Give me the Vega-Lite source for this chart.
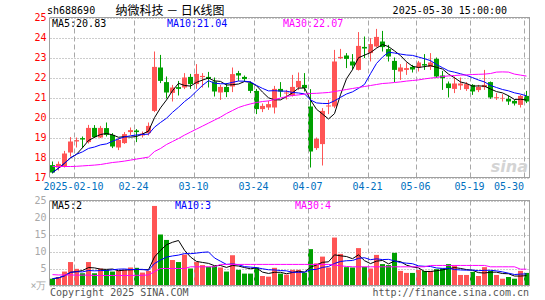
{
"$schema": "https://vega.github.io/schema/vega-lite/v6.json",
"width": 480, "height": 269,
"autosize": {"type": "none"},
"padding": {"left": 50, "top": 17, "right": 15, "bottom": 14},
"background": "white",
"config": {"view": {"stroke": null}, "font": "DejaVu Sans Mono"},
"datasets": {
"k": [
{"d":"2025-01-27","o":17.62,"h":17.8,"l":17.2,"c":17.25,"v":2.0,"m":17.55,"vm":3.2},
{"d":"2025-02-05","o":17.5,"h":17.8,"l":17.35,"c":17.68,"v":2.5,"m":17.55,"vm":3.1},
{"d":"2025-02-06","o":17.55,"h":18.33,"l":17.5,"c":18.2,"v":4.1,"m":17.55,"vm":3.1},
{"d":"2025-02-07","o":18.25,"h":19.02,"l":18.05,"c":18.8,"v":6.9,"m":17.55,"vm":3.1},
{"d":"2025-02-10","o":18.8,"h":19.0,"l":18.5,"c":18.87,"v":4.9,"m":17.56,"vm":3.05},
{"d":"2025-02-11","o":18.97,"h":19.05,"l":18.47,"c":18.9,"v":3.6,"m":17.58,"vm":3.05},
{"d":"2025-02-12","o":18.77,"h":19.63,"l":18.7,"c":19.48,"v":6.9,"m":17.6,"vm":3.05},
{"d":"2025-02-13","o":19.48,"h":19.62,"l":18.97,"c":19.02,"v":3.6,"m":17.62,"vm":2.95},
{"d":"2025-02-14","o":19.0,"h":19.58,"l":18.97,"c":19.48,"v":5.0,"m":17.65,"vm":2.95},
{"d":"2025-02-17","o":19.47,"h":19.75,"l":19.05,"c":19.13,"v":4.6,"m":17.7,"vm":2.95},
{"d":"2025-02-18","o":19.13,"h":19.22,"l":18.47,"c":18.55,"v":4.1,"m":17.75,"vm":2.95},
{"d":"2025-02-19","o":18.5,"h":18.97,"l":18.37,"c":18.88,"v":4.4,"m":17.78,"vm":2.95},
{"d":"2025-02-20","o":18.72,"h":19.27,"l":18.68,"c":19.17,"v":4.6,"m":17.82,"vm":2.95},
{"d":"2025-02-21","o":19.27,"h":19.5,"l":19.13,"c":19.37,"v":5.3,"m":17.87,"vm":2.95},
{"d":"2025-02-24","o":19.35,"h":19.42,"l":18.77,"c":19.27,"v":5.2,"m":17.92,"vm":3.0},
{"d":"2025-02-25","o":19.1,"h":19.3,"l":19.0,"c":19.2,"v":3.8,"m":17.97,"vm":3.0},
{"d":"2025-02-26","o":19.22,"h":19.75,"l":19.1,"c":19.58,"v":4.3,"m":18.02,"vm":3.1},
{"d":"2025-02-27","o":20.33,"h":23.3,"l":20.27,"c":22.53,"v":23.4,"m":18.3,"vm":4.1},
{"d":"2025-02-28","o":22.5,"h":23.13,"l":21.72,"c":21.83,"v":15.0,"m":18.45,"vm":5.0},
{"d":"2025-03-03","o":21.77,"h":22.05,"l":20.95,"c":21.25,"v":13.4,"m":18.65,"vm":5.0},
{"d":"2025-03-04","o":21.23,"h":21.63,"l":20.8,"c":21.5,"v":7.5,"m":18.8,"vm":5.0},
{"d":"2025-03-05","o":21.52,"h":21.83,"l":21.1,"c":21.43,"v":6.9,"m":18.95,"vm":5.0},
{"d":"2025-03-06","o":21.5,"h":22.22,"l":21.42,"c":22.0,"v":9.1,"m":19.12,"vm":5.0},
{"d":"2025-03-07","o":22.03,"h":22.18,"l":21.43,"c":21.67,"v":5.0,"m":19.27,"vm":5.5},
{"d":"2025-03-10","o":21.67,"h":22.67,"l":21.43,"c":22.18,"v":6.9,"m":19.42,"vm":5.5},
{"d":"2025-03-11","o":22.02,"h":22.22,"l":21.5,"c":22.08,"v":6.0,"m":19.57,"vm":5.5},
{"d":"2025-03-12","o":22.03,"h":22.28,"l":21.5,"c":21.93,"v":5.5,"m":19.72,"vm":5.5},
{"d":"2025-03-13","o":21.8,"h":22.0,"l":21.05,"c":21.3,"v":5.7,"m":19.87,"vm":5.5},
{"d":"2025-03-14","o":21.25,"h":21.63,"l":20.88,"c":21.53,"v":5.3,"m":20.02,"vm":6.2},
{"d":"2025-03-17","o":21.53,"h":21.72,"l":21.02,"c":21.27,"v":4.1,"m":20.2,"vm":6.2},
{"d":"2025-03-18","o":21.55,"h":22.5,"l":21.27,"c":22.17,"v":8.9,"m":20.35,"vm":6.2},
{"d":"2025-03-19","o":22.22,"h":22.33,"l":21.83,"c":22.1,"v":4.6,"m":20.5,"vm":6.2},
{"d":"2025-03-20","o":22.03,"h":22.1,"l":21.8,"c":21.92,"v":3.5,"m":20.6,"vm":6.2},
{"d":"2025-03-21","o":21.72,"h":21.8,"l":21.22,"c":21.33,"v":3.5,"m":20.68,"vm":6.2},
{"d":"2025-03-24","o":21.33,"h":21.43,"l":20.17,"c":20.42,"v":5.3,"m":20.75,"vm":6.2},
{"d":"2025-03-25","o":20.42,"h":20.7,"l":20.27,"c":20.58,"v":2.8,"m":20.8,"vm":6.2},
{"d":"2025-03-26","o":20.5,"h":20.83,"l":20.38,"c":20.67,"v":2.6,"m":20.83,"vm":6.2},
{"d":"2025-03-27","o":20.5,"h":21.58,"l":20.2,"c":21.43,"v":5.2,"m":20.9,"vm":6.2},
{"d":"2025-03-28","o":21.43,"h":21.77,"l":21.03,"c":21.3,"v":3.5,"m":20.97,"vm":6.2},
{"d":"2025-03-31","o":21.2,"h":21.38,"l":20.9,"c":21.25,"v":3.2,"m":21.05,"vm":6.2},
{"d":"2025-04-01","o":21.1,"h":22.13,"l":21.05,"c":21.53,"v":4.6,"m":21.1,"vm":6.2},
{"d":"2025-04-02","o":21.5,"h":22.25,"l":21.37,"c":21.83,"v":4.6,"m":21.13,"vm":6.2},
{"d":"2025-04-03","o":21.63,"h":22.22,"l":21.3,"c":21.47,"v":3.8,"m":21.17,"vm":6.2},
{"d":"2025-04-07","o":20.55,"h":21.42,"l":17.5,"c":18.3,"v":10.7,"m":21.2,"vm":6.2},
{"d":"2025-04-08","o":18.47,"h":19.0,"l":18.38,"c":18.93,"v":6.5,"m":21.21,"vm":6.2},
{"d":"2025-04-09","o":18.67,"h":20.47,"l":17.6,"c":20.33,"v":8.5,"m":21.23,"vm":6.2},
{"d":"2025-04-10","o":20.55,"h":20.88,"l":20.17,"c":20.6,"v":5.3,"m":21.25,"vm":6.2},
{"d":"2025-04-11","o":20.55,"h":23.38,"l":20.47,"c":22.8,"v":14.1,"m":21.3,"vm":6.0},
{"d":"2025-04-14","o":22.97,"h":23.43,"l":22.92,"c":23.03,"v":9.3,"m":21.35,"vm":5.8},
{"d":"2025-04-15","o":23.1,"h":23.22,"l":22.47,"c":22.93,"v":5.4,"m":21.4,"vm":5.6},
{"d":"2025-04-16","o":22.8,"h":23.17,"l":22.38,"c":22.6,"v":5.3,"m":21.45,"vm":5.5},
{"d":"2025-04-17","o":22.38,"h":24.27,"l":22.35,"c":23.58,"v":11.0,"m":21.5,"vm":5.5},
{"d":"2025-04-18","o":23.53,"h":24.05,"l":22.97,"c":23.45,"v":5.5,"m":21.55,"vm":5.5},
{"d":"2025-04-21","o":23.22,"h":23.97,"l":22.8,"c":23.67,"v":5.0,"m":21.6,"vm":5.5},
{"d":"2025-04-22","o":23.55,"h":24.43,"l":23.5,"c":24.03,"v":9.0,"m":21.65,"vm":5.5},
{"d":"2025-04-23","o":23.8,"h":24.33,"l":23.3,"c":23.52,"v":6.3,"m":21.7,"vm":5.5},
{"d":"2025-04-24","o":23.42,"h":23.63,"l":22.8,"c":23.05,"v":6.0,"m":21.72,"vm":5.5},
{"d":"2025-04-25","o":22.83,"h":23.0,"l":21.77,"c":22.38,"v":9.6,"m":21.75,"vm":5.5},
{"d":"2025-04-28","o":22.3,"h":22.67,"l":21.88,"c":22.5,"v":4.3,"m":21.78,"vm":5.5},
{"d":"2025-04-29","o":22.38,"h":22.75,"l":22.13,"c":22.47,"v":3.7,"m":21.82,"vm":5.5},
{"d":"2025-04-30","o":22.53,"h":22.63,"l":22.25,"c":22.4,"v":3.7,"m":21.85,"vm":5.5},
{"d":"2025-05-06","o":22.5,"h":22.83,"l":22.3,"c":22.75,"v":4.6,"m":21.88,"vm":5.5},
{"d":"2025-05-07","o":22.67,"h":23.17,"l":22.38,"c":22.6,"v":4.3,"m":21.93,"vm":5.5},
{"d":"2025-05-08","o":22.53,"h":23.22,"l":22.38,"c":22.75,"v":4.3,"m":21.97,"vm":5.9},
{"d":"2025-05-09","o":22.93,"h":23.0,"l":21.97,"c":22.05,"v":4.8,"m":22.0,"vm":5.9},
{"d":"2025-05-12","o":22.1,"h":22.33,"l":21.38,"c":21.97,"v":5.0,"m":22.05,"vm":5.9},
{"d":"2025-05-13","o":21.7,"h":21.8,"l":21.0,"c":21.47,"v":6.3,"m":22.08,"vm":5.9},
{"d":"2025-05-14","o":21.43,"h":22.05,"l":21.22,"c":21.7,"v":5.9,"m":22.1,"vm":5.9},
{"d":"2025-05-15","o":21.6,"h":22.0,"l":21.38,"c":21.7,"v":3.1,"m":22.12,"vm":5.9},
{"d":"2025-05-16","o":21.42,"h":21.77,"l":21.33,"c":21.67,"v":3.1,"m":22.13,"vm":5.9},
{"d":"2025-05-19","o":21.63,"h":21.67,"l":21.13,"c":21.3,"v":4.0,"m":22.15,"vm":5.9},
{"d":"2025-05-20","o":21.37,"h":21.63,"l":21.27,"c":21.53,"v":2.8,"m":22.16,"vm":5.9},
{"d":"2025-05-21","o":21.52,"h":22.38,"l":21.38,"c":21.63,"v":5.4,"m":22.17,"vm":5.9},
{"d":"2025-05-22","o":21.77,"h":21.8,"l":20.93,"c":21.0,"v":4.3,"m":22.2,"vm":5.5},
{"d":"2025-05-23","o":20.98,"h":21.22,"l":20.88,"c":21.02,"v":3.1,"m":22.27,"vm":5.5},
{"d":"2025-05-26","o":20.95,"h":21.17,"l":20.8,"c":20.98,"v":2.0,"m":22.28,"vm":5.5},
{"d":"2025-05-27","o":20.93,"h":21.1,"l":20.63,"c":20.8,"v":2.5,"m":22.27,"vm":5.5},
{"d":"2025-05-28","o":20.83,"h":20.88,"l":20.6,"c":20.7,"v":2.0,"m":22.17,"vm":5.5},
{"d":"2025-05-29","o":20.63,"h":21.13,"l":20.5,"c":21.08,"v":4.3,"m":22.12,"vm":4.8},
{"d":"2025-05-30","o":21.08,"h":21.33,"l":20.72,"c":20.8,"v":3.7,"m":22.07,"vm":4.8}
],
"t": [{"d":"2025-02-10","lab":"2025-02-10"},{"d":"2025-02-24","lab":"02-24"},{"d":"2025-03-10","lab":"03-10"},{"d":"2025-03-24","lab":"03-24"},{"d":"2025-04-07","lab":"04-07"},{"d":"2025-04-21","lab":"04-21"},{"d":"2025-05-06","lab":"05-06"},{"d":"2025-05-19","lab":"05-19"},{"d":"2025-05-30","lab":"05-30"}],
"one": [{}]
},
"data": {"name": "k"},
"transform": [
{"window": [{"op": "mean", "field": "c", "as": "ma5"}, {"op": "mean", "field": "v", "as": "vma5"}], "frame": [-4, 0], "sort": [{"field": "d"}]},
{"window": [{"op": "mean", "field": "c", "as": "ma10"}, {"op": "mean", "field": "v", "as": "vma10"}], "frame": [-9, 0], "sort": [{"field": "d"}]}
],
"layer": [
{"mark": {"type": "bar", "width": {"band": 0.8333}, "xOffset": -0.5},
 "encoding": {"x": {"field": "d", "type": "ordinal", "scale": {"type": "band", "paddingInner": 0, "paddingOuter": 0}, "axis": null},
  "y": {"field": "o", "type": "quantitative", "scale": {"domain": [17, 25], "range": [160.5, 0.5], "zero": false, "nice": false},
   "axis": {"orient": "left", "values": [17,18,19,20,21,22,23,24,25], "domain": false, "ticks": false, "labelPadding": 4, "labelColor": "#ff0000", "labelFontSize": 10, "labelOverlap": false, "grid": true, "gridColor": "#9a9a9a", "gridDash": [1, 2], "title": null}},
  "y2": {"field": "c"},
  "color": {"condition": {"test": "datum.c >= datum.o", "value": "#ff5555"}, "value": "#00a000"}}},
{"mark": {"type": "bar", "width": {"band": 0.8333}, "xOffset": -0.5},
 "encoding": {"x": {"field": "d", "type": "ordinal", "scale": {"type": "band", "paddingInner": 0, "paddingOuter": 0}, "axis": null},
  "y": {"field": "v", "type": "quantitative", "scale": {"domain": [0, 25], "range": [268.5, 183.5], "nice": false},
   "axis": {"orient": "left", "values": [0, 5, 10, 15, 20, 25], "labelExpr": "datum.value == 0 ? '×万' : datum.label", "domain": false, "ticks": false, "labelPadding": 4, "labelColor": "#a8a8a8", "labelFontSize": 10, "labelOverlap": false, "grid": true, "gridColor": "#9a9a9a", "gridDash": [1, 2], "title": null}},
  "color": {"condition": {"test": "datum.c >= datum.o", "value": "#ff5555"}, "value": "#00a000"}}},
{"data": {"name": "t"}, "mark": {"type": "rule", "color": "#a8a8a8", "strokeDash": [5, 3], "xOffset": 0.5},
 "encoding": {"x": {"field": "d", "type": "ordinal", "bandPosition": 0, "scale": {"type": "band", "paddingInner": 0, "paddingOuter": 0}, "axis": null},
  "y": {"datum": 17, "type": "quantitative", "scale": {"domain": [17, 25], "range": [160.5, 0.5], "zero": false, "nice": false}, "axis": null}, "y2": {"datum": 25}}},
{"data": {"name": "t"}, "mark": {"type": "rule", "color": "#a8a8a8", "strokeDash": [5, 3], "xOffset": 0.5},
 "encoding": {"x": {"field": "d", "type": "ordinal", "bandPosition": 0, "scale": {"type": "band", "paddingInner": 0, "paddingOuter": 0}, "axis": null},
  "y": {"datum": 0, "type": "quantitative", "scale": {"domain": [0, 25], "range": [268.5, 183.5], "nice": false}, "axis": null}, "y2": {"datum": 25}}},
{"data": {"name": "t"}, "transform": [{"filter": "datum.d != '2025-05-30'"}], "mark": {"type": "text", "align": "center", "baseline": "middle", "dy": 9, "dx": -0.5, "fontSize": 10, "color": "#0070c0"},
 "encoding": {"x": {"field": "d", "type": "ordinal", "bandPosition": 0, "scale": {"type": "band", "paddingInner": 0, "paddingOuter": 0}, "axis": null},
  "y": {"datum": 17, "type": "quantitative", "scale": {"domain": [17, 25], "range": [160.5, 0.5], "zero": false, "nice": false}, "axis": null},
  "text": {"field": "lab"}}},
{"data": {"name": "t"}, "transform": [{"filter": "datum.d == '2025-05-30'"}], "mark": {"type": "text", "align": "right", "baseline": "middle", "dy": 9, "dx": 0, "fontSize": 10, "color": "#0070c0"},
 "encoding": {"x": {"field": "d", "type": "ordinal", "bandPosition": 0, "scale": {"type": "band", "paddingInner": 0, "paddingOuter": 0}, "axis": null},
  "y": {"datum": 17, "type": "quantitative", "scale": {"domain": [17, 25], "range": [160.5, 0.5], "zero": false, "nice": false}, "axis": null},
  "text": {"field": "lab"}}},
{"mark": {"type": "rule", "xOffset": -0.5},
 "encoding": {"x": {"field": "d", "type": "ordinal", "scale": {"type": "band", "paddingInner": 0, "paddingOuter": 0}, "axis": null},
  "y": {"field": "l", "type": "quantitative", "scale": {"domain": [17, 25], "range": [160.5, 0.5], "zero": false, "nice": false}, "axis": null}, "y2": {"field": "h"},
  "color": {"condition": {"test": "datum.c >= datum.o", "value": "#ff5555"}, "value": "#00a000"}}},
{"mark": {"type": "line", "color": "#000000", "strokeWidth": 1, "xOffset": -0.5},
 "encoding": {"x": {"field": "d", "type": "ordinal", "scale": {"type": "band", "paddingInner": 0, "paddingOuter": 0}, "axis": null},
  "y": {"field": "ma5", "type": "quantitative", "scale": {"domain": [17, 25], "range": [160.5, 0.5], "zero": false, "nice": false}, "axis": null}}},
{"mark": {"type": "line", "color": "#0000ff", "strokeWidth": 1, "xOffset": -0.5},
 "encoding": {"x": {"field": "d", "type": "ordinal", "scale": {"type": "band", "paddingInner": 0, "paddingOuter": 0}, "axis": null},
  "y": {"field": "ma10", "type": "quantitative", "scale": {"domain": [17, 25], "range": [160.5, 0.5], "zero": false, "nice": false}, "axis": null}}},
{"mark": {"type": "line", "color": "#ff00ff", "strokeWidth": 1, "xOffset": -0.5},
 "encoding": {"x": {"field": "d", "type": "ordinal", "scale": {"type": "band", "paddingInner": 0, "paddingOuter": 0}, "axis": null},
  "y": {"field": "m", "type": "quantitative", "scale": {"domain": [17, 25], "range": [160.5, 0.5], "zero": false, "nice": false}, "axis": null}}},
{"mark": {"type": "line", "color": "#000000", "strokeWidth": 1, "xOffset": -0.5},
 "encoding": {"x": {"field": "d", "type": "ordinal", "scale": {"type": "band", "paddingInner": 0, "paddingOuter": 0}, "axis": null},
  "y": {"field": "vma5", "type": "quantitative", "scale": {"domain": [0, 25], "range": [268.5, 183.5], "nice": false}, "axis": null}}},
{"mark": {"type": "line", "color": "#0000ff", "strokeWidth": 1, "xOffset": -0.5},
 "encoding": {"x": {"field": "d", "type": "ordinal", "scale": {"type": "band", "paddingInner": 0, "paddingOuter": 0}, "axis": null},
  "y": {"field": "vma10", "type": "quantitative", "scale": {"domain": [0, 25], "range": [268.5, 183.5], "nice": false}, "axis": null}}},
{"mark": {"type": "line", "color": "#ff00ff", "strokeWidth": 1, "xOffset": -0.5},
 "encoding": {"x": {"field": "d", "type": "ordinal", "scale": {"type": "band", "paddingInner": 0, "paddingOuter": 0}, "axis": null},
  "y": {"field": "vm", "type": "quantitative", "scale": {"domain": [0, 25], "range": [268.5, 183.5], "nice": false}, "axis": null}}},
{"data": {"name": "one"}, "mark": {"type": "rule", "color": "#a0a0a0"},
 "encoding": {"y": {"datum": 25, "type": "quantitative", "scale": {"domain": [17, 25], "range": [160.5, 0.5], "zero": false, "nice": false}, "axis": null}}},
{"data": {"name": "one"}, "mark": {"type": "rule", "color": "#a0a0a0"},
 "encoding": {"y": {"datum": 17, "type": "quantitative", "scale": {"domain": [17, 25], "range": [160.5, 0.5], "zero": false, "nice": false}, "axis": null}}},
{"data": {"name": "one"}, "mark": {"type": "rule", "color": "#a0a0a0", "xOffset": -0.5},
 "encoding": {"x": {"datum": "2025-01-27", "type": "ordinal", "bandPosition": 0, "scale": {"type": "band", "paddingInner": 0, "paddingOuter": 0}, "axis": null},
  "y": {"datum": 17, "type": "quantitative", "scale": {"domain": [17, 25], "range": [160.5, 0.5], "zero": false, "nice": false}, "axis": null}, "y2": {"datum": 25}}},
{"data": {"name": "one"}, "mark": {"type": "rule", "color": "#a0a0a0", "xOffset": -0.5},
 "encoding": {"x": {"datum": "2025-05-30", "type": "ordinal", "bandPosition": 1, "scale": {"type": "band", "paddingInner": 0, "paddingOuter": 0}, "axis": null},
  "y": {"datum": 17, "type": "quantitative", "scale": {"domain": [17, 25], "range": [160.5, 0.5], "zero": false, "nice": false}, "axis": null}, "y2": {"datum": 25}}},
{"data": {"name": "one"}, "mark": {"type": "rule", "color": "#a0a0a0"},
 "encoding": {"y": {"datum": 25, "type": "quantitative", "scale": {"domain": [0, 25], "range": [268.5, 183.5], "nice": false}, "axis": null}}},
{"data": {"name": "one"}, "mark": {"type": "rule", "color": "#a0a0a0"},
 "encoding": {"y": {"datum": 0, "type": "quantitative", "scale": {"domain": [0, 25], "range": [268.5, 183.5], "nice": false}, "axis": null}}},
{"data": {"name": "one"}, "mark": {"type": "rule", "color": "#a0a0a0", "xOffset": -0.5},
 "encoding": {"x": {"datum": "2025-01-27", "type": "ordinal", "bandPosition": 0, "scale": {"type": "band", "paddingInner": 0, "paddingOuter": 0}, "axis": null},
  "y": {"datum": 0, "type": "quantitative", "scale": {"domain": [0, 25], "range": [268.5, 183.5], "nice": false}, "axis": null}, "y2": {"datum": 25}}},
{"data": {"name": "one"}, "mark": {"type": "rule", "color": "#a0a0a0", "xOffset": -0.5},
 "encoding": {"x": {"datum": "2025-05-30", "type": "ordinal", "bandPosition": 1, "scale": {"type": "band", "paddingInner": 0, "paddingOuter": 0}, "axis": null},
  "y": {"datum": 0, "type": "quantitative", "scale": {"domain": [0, 25], "range": [268.5, 183.5], "nice": false}, "axis": null}, "y2": {"datum": 25}}},
{"data": {"name": "one"}, "mark": {"type": "text", "text": "sh688690", "align": "left", "baseline": "middle", "dx": -3, "dy": -7, "fontSize": 10, "color": "#000000"},
 "encoding": {"x": {"datum": "2025-01-27", "type": "ordinal", "bandPosition": 0, "scale": {"type": "band", "paddingInner": 0, "paddingOuter": 0}, "axis": null}, "y": {"datum": 25, "type": "quantitative", "scale": {"domain": [17, 25], "range": [160.5, 0.5], "zero": false, "nice": false}, "axis": null}}},
{"data": {"name": "one"}, "mark": {"type": "text", "text": "纳微科技 － 日K线图", "align": "center", "baseline": "middle", "dy": -7, "fontSize": 12, "font": "Noto Sans CJK SC", "color": "#000000"},
 "encoding": {"x": {"datum": "2025-03-04", "type": "ordinal", "bandPosition": 0, "scale": {"type": "band", "paddingInner": 0, "paddingOuter": 0}, "axis": null}, "y": {"datum": 25, "type": "quantitative", "scale": {"domain": [17, 25], "range": [160.5, 0.5], "zero": false, "nice": false}, "axis": null}}},
{"data": {"name": "one"}, "mark": {"type": "text", "text": "2025-05-30 15:00:00", "align": "right", "baseline": "middle", "dx": 1, "dy": -7, "fontSize": 10, "color": "#000000"},
 "encoding": {"x": {"datum": "2025-05-27", "type": "ordinal", "bandPosition": 0, "scale": {"type": "band", "paddingInner": 0, "paddingOuter": 0}, "axis": null}, "y": {"datum": 25, "type": "quantitative", "scale": {"domain": [17, 25], "range": [160.5, 0.5], "zero": false, "nice": false}, "axis": null}}},
{"data": {"name": "one"}, "mark": {"type": "text", "text": "MA5:20.83", "align": "left", "baseline": "middle", "dx": 2, "dy": 6, "fontSize": 10, "color": "#000000"},
 "encoding": {"x": {"datum": "2025-01-27", "type": "ordinal", "bandPosition": 0, "scale": {"type": "band", "paddingInner": 0, "paddingOuter": 0}, "axis": null}, "y": {"datum": 25, "type": "quantitative", "scale": {"domain": [17, 25], "range": [160.5, 0.5], "zero": false, "nice": false}, "axis": null}}},
{"data": {"name": "one"}, "mark": {"type": "text", "text": "MA10:21.04", "align": "left", "baseline": "middle", "dx": -3, "dy": 6, "fontSize": 10, "color": "#0000ff"},
 "encoding": {"x": {"datum": "2025-03-04", "type": "ordinal", "bandPosition": 0, "scale": {"type": "band", "paddingInner": 0, "paddingOuter": 0}, "axis": null}, "y": {"datum": 25, "type": "quantitative", "scale": {"domain": [17, 25], "range": [160.5, 0.5], "zero": false, "nice": false}, "axis": null}}},
{"data": {"name": "one"}, "mark": {"type": "text", "text": "MA30:22.07", "align": "left", "baseline": "middle", "dx": -1, "dy": 6, "fontSize": 10, "color": "#ff00ff"},
 "encoding": {"x": {"datum": "2025-03-31", "type": "ordinal", "bandPosition": 0, "scale": {"type": "band", "paddingInner": 0, "paddingOuter": 0}, "axis": null}, "y": {"datum": 25, "type": "quantitative", "scale": {"domain": [17, 25], "range": [160.5, 0.5], "zero": false, "nice": false}, "axis": null}}},
{"data": {"name": "one"}, "mark": {"type": "text", "text": "sina", "align": "right", "baseline": "middle", "dx": -2, "dy": -11, "fontSize": 16, "font": "DejaVu Sans", "fontStyle": "italic", "fontWeight": "bold", "color": "#d4d4d4"},
 "encoding": {"x": {"datum": "2025-05-30", "type": "ordinal", "bandPosition": 1, "scale": {"type": "band", "paddingInner": 0, "paddingOuter": 0}, "axis": null}, "y": {"datum": 17, "type": "quantitative", "scale": {"domain": [17, 25], "range": [160.5, 0.5], "zero": false, "nice": false}, "axis": null}}},
{"data": {"name": "one"}, "mark": {"type": "text", "text": "MA5:2", "align": "left", "baseline": "middle", "dx": 2, "dy": 5, "fontSize": 10, "color": "#000000"},
 "encoding": {"x": {"datum": "2025-01-27", "type": "ordinal", "bandPosition": 0, "scale": {"type": "band", "paddingInner": 0, "paddingOuter": 0}, "axis": null}, "y": {"datum": 25, "type": "quantitative", "scale": {"domain": [0, 25], "range": [268.5, 183.5], "nice": false}, "axis": null}}},
{"data": {"name": "one"}, "mark": {"type": "text", "text": "MA10:3", "align": "left", "baseline": "middle", "dx": -1, "dy": 5, "fontSize": 10, "color": "#0000ff"},
 "encoding": {"x": {"datum": "2025-03-05", "type": "ordinal", "bandPosition": 0, "scale": {"type": "band", "paddingInner": 0, "paddingOuter": 0}, "axis": null}, "y": {"datum": 25, "type": "quantitative", "scale": {"domain": [0, 25], "range": [268.5, 183.5], "nice": false}, "axis": null}}},
{"data": {"name": "one"}, "mark": {"type": "text", "text": "MA30:4", "align": "left", "baseline": "middle", "dx": -1, "dy": 5, "fontSize": 10, "color": "#ff00ff"},
 "encoding": {"x": {"datum": "2025-04-02", "type": "ordinal", "bandPosition": 0, "scale": {"type": "band", "paddingInner": 0, "paddingOuter": 0}, "axis": null}, "y": {"datum": 25, "type": "quantitative", "scale": {"domain": [0, 25], "range": [268.5, 183.5], "nice": false}, "axis": null}}},
{"data": {"name": "one"}, "mark": {"type": "text", "text": "Copyright 2025 SINA.COM", "align": "left", "baseline": "middle", "dy": 7, "fontSize": 10, "color": "#555555"},
 "encoding": {"x": {"datum": "2025-01-27", "type": "ordinal", "bandPosition": 0, "scale": {"type": "band", "paddingInner": 0, "paddingOuter": 0}, "axis": null}, "y": {"datum": 0, "type": "quantitative", "scale": {"domain": [0, 25], "range": [268.5, 183.5], "nice": false}, "axis": null}}},
{"data": {"name": "one"}, "mark": {"type": "text", "text": "http://finance.sina.com.cn", "align": "right", "baseline": "middle", "dx": -1, "dy": 7, "fontSize": 10, "color": "#555555"},
 "encoding": {"x": {"datum": "2025-05-30", "type": "ordinal", "bandPosition": 1, "scale": {"type": "band", "paddingInner": 0, "paddingOuter": 0}, "axis": null}, "y": {"datum": 0, "type": "quantitative", "scale": {"domain": [0, 25], "range": [268.5, 183.5], "nice": false}, "axis": null}}}
],
"resolve": {"scale": {"y": "independent"}}
}
